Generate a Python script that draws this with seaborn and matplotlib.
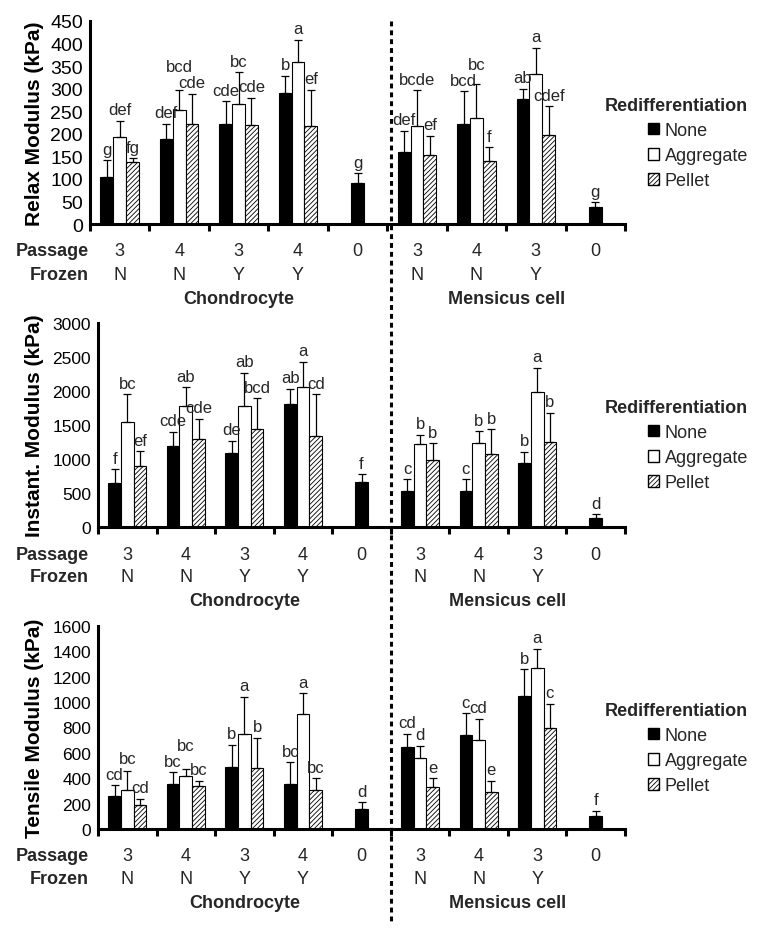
#!/usr/bin/env python3

import numpy as np
import pandas as pd
import matplotlib
matplotlib.use('Agg')
import matplotlib.pyplot as plt
from matplotlib.patches import Patch
from matplotlib.lines import Line2D
from matplotlib import transforms
import seaborn as sns

sns.set_theme(style='white')
plt.rcParams['font.family'] = ['Liberation Sans', 'DejaVu Sans']
plt.rcParams['hatch.linewidth'] = 0.6

nan = np.nan

groups = ['C-3N', 'C-4N', 'C-3Y', 'C-4Y', 'C-0', 'M-3N', 'M-4N', 'M-3Y', 'M-0']
cell = ['Chondrocyte'] * 5 + ['Mensicus cell'] * 4
passage = ['3', '4', '3', '4', '0', '3', '4', '3', '0']
frozen = ['N', 'N', 'Y', 'Y', '', 'N', 'N', 'Y', '']
treatments = ['None', 'Aggregate', 'Pellet']

# relax modulus (kPa)
relax_none = [105, 189, 221, 291, 90, 159, 222, 276, 37]
relax_none_sd = [36, 33, 51, 38, 23, 48, 72, 24, 11]
relax_agg = [192, 252, 265, 360, nan, 218, 235, 333, nan]
relax_agg_sd = [37, 46, 71, 48, nan, 78, 76, 58, nan]
relax_pel = [138, 222, 220, 217, nan, 154, 139, 197, nan]
relax_pel_sd = [8, 67, 60, 81, nan, 42, 31, 64, nan]
relax_none_let = ['g', 'def', 'cde', 'b', 'g', 'def', 'bcd', 'ab', 'g']
relax_agg_let = ['def', 'bcd', 'bc', 'a', '', 'bcde', 'bc', 'a', '']
relax_pel_let = ['fg', 'cde', 'cde', 'ef', '', 'ef', 'f', 'cdef', '']

# instantaneous modulus (kPa)
inst_none = [651, 1184, 1085, 1811, 666, 533, 533, 937, 133]
inst_none_sd = [198, 217, 183, 222, 113, 172, 172, 173, 54]
inst_agg = [1539, 1776, 1776, 2062, nan, 1214, 1228, 1983, nan]
inst_agg_sd = [410, 276, 493, 365, nan, 143, 178, 360, nan]
inst_pel = [898, 1293, 1441, 1342, nan, 987, 1075, 1243, nan]
inst_pel_sd = [217, 296, 449, 607, nan, 246, 365, 434, nan]
inst_none_let = ['f', 'cde', 'de', 'ab', 'f', 'c', 'c', 'b', 'd']
inst_agg_let = ['bc', 'ab', 'ab', 'a', '', 'b', 'b', 'a', '']
inst_pel_let = ['ef', 'cde', 'bcd', 'cd', '', 'b', 'b', 'b', '']

# tensile modulus (kPa)
tens_none = [258, 355, 492, 358, 158, 645, 737, 1045, 103]
tens_none_sd = [89, 92, 171, 168, 53, 105, 176, 213, 42]
tens_agg = [305, 416, 750, 903, nan, 561, 705, 1268, nan]
tens_agg_sd = [155, 58, 292, 166, nan, 97, 163, 153, nan]
tens_pel = [192, 337, 482, 311, nan, 329, 295, 795, nan]
tens_pel_sd = [45, 45, 237, 89, nan, 71, 84, 192, nan]
tens_none_let = ['cd', 'bc', 'b', 'bc', 'd', 'cd', 'c', 'b', 'f']
tens_agg_let = ['bc', 'bc', 'a', 'a', '', 'd', 'cd', 'a', '']
tens_pel_let = ['cd', 'bc', 'b', 'bc', '', 'e', 'e', 'c', '']

panels = [
    dict(label='Relax Modulus (kPa)', ymax=450, step=50, tick_size=14,
         means=[relax_none, relax_agg, relax_pel],
         sds=[relax_none_sd, relax_agg_sd, relax_pel_sd],
         lets=[relax_none_let, relax_agg_let, relax_pel_let],
         pos=[90, 22, 625, 225]),
    dict(label='Instant. Modulus (kPa)', ymax=3000, step=500, tick_size=12.5,
         means=[inst_none, inst_agg, inst_pel],
         sds=[inst_none_sd, inst_agg_sd, inst_pel_sd],
         lets=[inst_none_let, inst_agg_let, inst_pel_let],
         pos=[98, 324, 625, 528]),
    dict(label='Tensile Modulus (kPa)', ymax=1600, step=200, tick_size=12.5,
         means=[tens_none, tens_agg, tens_pel],
         sds=[tens_none_sd, tens_agg_sd, tens_pel_sd],
         lets=[tens_none_let, tens_agg_let, tens_pel_let],
         pos=[98, 627, 625, 830]),
]

W, H, DPI = 764, 929, 100
HATCH = '///////'
palette = {'None': 'black', 'Aggregate': 'white', 'Pellet': 'white'}


def long_frame(means):
    rows = []
    for k, t in enumerate(treatments):
        for i, g in enumerate(groups):
            if not np.isnan(means[k][i]):
                rows.append({'group': g, 'treatment': t, 'value': means[k][i]})
    return pd.DataFrame(rows)


fig = plt.figure(figsize=(W / DPI, H / DPI), dpi=DPI)
renderer = fig.canvas.get_renderer()
axes = []

for p in panels:
    x0, y0, x1, y1 = p['pos']
    ax = fig.add_axes([x0 / W, 1 - y1 / H, (x1 - x0) / W, (y1 - y0) / H])
    axes.append(ax)

    df = long_frame(p['means'])
    full_idx = [i for i in range(len(groups)) if not np.isnan(p['means'][1][i])]
    single_idx = [i for i in range(len(groups)) if i not in full_idx]
    full = df[df['group'].isin([groups[i] for i in full_idx])]
    single = df[df['group'].isin([groups[i] for i in single_idx])]

    sns.barplot(data=full, x='group', y='value', hue='treatment', order=groups,
                hue_order=treatments, palette=palette, width=0.65, saturation=1,
                edgecolor='black', linewidth=0.8, errorbar=None, legend=False, ax=ax)
    sns.barplot(data=single, x='group', y='value', order=groups, color='black',
                width=0.65 / 3, saturation=1, edgecolor='black', linewidth=0.8,
                errorbar=None, ax=ax)

    for bar in ax.containers[2]:
        bar.set_hatch(HATCH)

    ax.set_xlim(-0.5, len(groups) - 0.5)
    ax.set_ylim(0, p['ymax'])

    sets = [(ax.containers[k], full_idx, k) for k in range(3)]
    sets.append((ax.containers[3], single_idx, 0))
    texts = {}
    for cont, idx, k in sets:
        for bar, gi in zip(cont, idx):
            cx = bar.get_x() + bar.get_width() / 2
            h = bar.get_height()
            sd = p['sds'][k][gi]
            ax.errorbar(cx, h, yerr=[[0], [sd]], fmt='none', ecolor='black',
                        elinewidth=0.9, capsize=3, capthick=0.9)
            texts[(gi, k)] = ax.annotate(p['lets'][k][gi], (cx, h + sd), xytext=(0, 2.5),
                                         textcoords='offset points', ha='center',
                                         va='bottom', fontsize=12)

    # lift the middle letter when it collides with a neighbour
    for gi in full_idx:
        mid = texts[(gi, 1)]
        for nb in (0, 2):
            bb = mid.get_window_extent(renderer)
            ob = texts[(gi, nb)].get_window_extent(renderer)
            hover = min(bb.x1, ob.x1) - max(bb.x0, ob.x0)
            vover = min(bb.y1, ob.y1) - max(bb.y0, ob.y0)
            if hover > 3 and vover > 0:
                shift = (ob.y1 - bb.y0 + 1) * 72 / DPI
                mid.xyann = (0, mid.xyann[1] + shift)

    ax.set_xticks(np.arange(-0.5, len(groups), 1))
    ax.set_xticklabels([])
    ax.set_yticks(np.arange(0, p['ymax'] + 1, p['step']))
    ax.tick_params(axis='x', direction='out', length=5, width=2.2, color='black', bottom=True)
    ax.tick_params(axis='y', length=0, pad=5, labelsize=p['tick_size'], colors='black')
    ax.set_xlabel('')
    ax.set_ylabel(p['label'], fontsize=15, fontweight='bold', color='black')
    ax.yaxis.set_label_coords((44 - x0) / (x1 - x0), 0.5)
    for s in ['top', 'right']:
        ax.spines[s].set_visible(False)
    for s in ['left', 'bottom']:
        ax.spines[s].set_linewidth(2.2)
        ax.spines[s].set_color('black')
    ax.set_facecolor('none')

    # passage / frozen rows and cell type
    for i in range(len(groups)):
        ax.annotate(passage[i], xy=(i, 0), xycoords=('data', 'axes fraction'),
                    xytext=(0, -27), textcoords='offset pixels', ha='center',
                    va='center', fontsize=13)
        ax.annotate(frozen[i], xy=(i, 0), xycoords=('data', 'axes fraction'),
                    xytext=(0, -50), textcoords='offset pixels', ha='center',
                    va='center', fontsize=13)
    for c in dict.fromkeys(cell):
        centre = np.mean([i for i in range(len(groups)) if cell[i] == c])
        ax.annotate(c, xy=(centre, 0), xycoords=('data', 'axes fraction'),
                    xytext=(0, -74), textcoords='offset pixels', ha='center',
                    va='center', fontsize=13, fontweight='bold')
    fig.text(89 / W, 1 - (y1 + 27) / H, 'Passage', ha='right', va='center',
             fontsize=13, fontweight='bold')
    fig.text(89 / W, 1 - (y1 + 50) / H, 'Frozen', ha='right', va='center',
             fontsize=13, fontweight='bold')

    handles = [Patch(facecolor='black', edgecolor='black'),
               Patch(facecolor='white', edgecolor='black'),
               Patch(facecolor='white', edgecolor='black', hatch=HATCH)]
    ax.legend(handles, treatments, title='Redifferentiation', loc='upper right',
              bbox_to_anchor=(748 / W, 1 - (y0 + 76) / H), bbox_transform=fig.transFigure,
              frameon=False, fontsize=13, title_fontproperties={'weight': 'bold', 'size': 13},
              alignment='right', handlelength=0.6, handleheight=0.6, handletextpad=0.3,
              labelspacing=0.45, borderpad=0, borderaxespad=0)

# dashed separator between chondrocytes and meniscus cells
trans = transforms.blended_transform_factory(axes[1].transData, fig.transFigure)
fig.add_artist(Line2D([4.5, 4.5], [1 - 22 / H, 1 - 925 / H], transform=trans,
                      color='black', lw=2.2, ls=(0, (1.6, 1.3))))

fig.savefig('out.png', dpi=DPI)
